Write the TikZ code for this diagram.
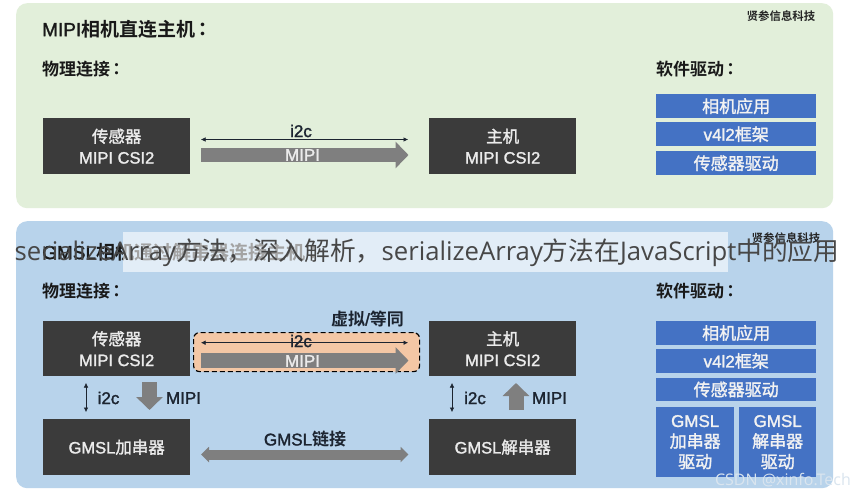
\documentclass[tikz,border=0pt]{standalone}
\usepackage{fontspec}
\setmainfont{Liberation Sans}[FakeBold=1.6]
\newfontfamily\cjk{Noto Sans CJK SC}[FakeBold=1.6]
\newfontfamily\cjkb{Noto Sans CJK SC Bold}
\newfontfamily\cjktc{Noto Sans CJK TC Bold}
\newfontfamily\ovlat{Open Sans}
\newfontfamily\ovcjk{Noto Sans CJK SC}
\newcommand{\C}[1]{{\cjk #1}}
\newcommand{\B}[1]{{\cjkb #1}}
\newcommand{\K}{\kern-2pt{\cjktc ：}}
\newcommand{\Ov}[1]{{\ovcjk #1}}
\usetikzlibrary{arrows.meta}
\definecolor{panelg}{HTML}{E2EFDA}
\definecolor{panelb}{HTML}{B8D3EB}
\definecolor{dk}{HTML}{3B3B3B}
\definecolor{blu}{HTML}{4472C4}
\definecolor{gry}{HTML}{7F7F7F}
\definecolor{peach}{HTML}{F4C7A5}
\definecolor{ink}{HTML}{1C2430}
\definecolor{csdn}{HTML}{DAE5EF}
\tikzset{
 x=1pt,y=-1pt,
 panel/.style={rounded corners=11pt,draw=none,inner sep=0pt,anchor=north west},
 dark/.style={fill=dk,text=white!92!black,font=\fontsize{16.5}{21}\selectfont,align=center,minimum width=147pt,inner sep=0pt,anchor=north west},
 soft/.style={fill=blu,text=white!95!black,font=\fontsize{17}{20.5}\selectfont,align=center,inner sep=0pt,anchor=north west},
 head/.style={font=\fontsize{17}{20}\selectfont,anchor=west,inner sep=0pt,text=black!90},
 bighead/.style={font=\fontsize{19}{22}\selectfont,anchor=west,inner sep=0pt,text=black!90},
 lab/.style={font=\fontsize{17}{20}\selectfont,inner sep=0pt,text=ink},
 arrowlab/.style={font=\fontsize{17}{20}\selectfont,text=white!92!black,inner sep=0pt},
 wm/.style={font=\fontsize{11.4}{13}\selectfont,inner sep=0pt,text=black!85},
 thinarr/.style={{Latex[length=4.5pt,width=4.5pt]}-{Latex[length=4.5pt,width=4.5pt]},line width=0.5pt,draw=ink},
 fat/.style={line width=14.5pt,draw=gry,-{Triangle[length=13pt,width=26pt]}},
 fatv/.style={line width=15pt,draw=gry,-{Triangle[length=13pt,width=26pt]}},
 fatd/.style={line width=10pt,draw=gry,{Triangle[length=8pt,width=15pt]}-{Triangle[length=8pt,width=15pt]}},
}
\begin{document}
\begin{tikzpicture}
\useasboundingbox (0,0) rectangle (852,490);
\fill[white] (0,0) rectangle (852,490);
% top panel
\node[panel,fill=panelg,minimum width=817pt,minimum height=205pt] (p1) at (16,3) {};
\node[bighead] (t1) at (42,29) {MIPI\B{相机直连主机}\K};
\node[head] (s1) at (42,69) {\B{物理连接}\K};
\node[head] (d1) at (656,69) {\B{软件驱动}\K};
\node[wm] (w1) at (781,16) {\B{贤参信息科技}};
\node[dark,minimum height=56pt] (a1) at (43,118) {\C{传感器}\\MIPI CSI2};
\node[dark,minimum height=56pt] (b1) at (429,118) {\C{主机}\\MIPI CSI2};
\coordinate (i1l) at (201,139.5);
\coordinate (i1r) at (408,139.5);
\draw[thinarr] (i1l) -- (i1r);
\node[lab] (i1t) at (301,131) {i2c};
\coordinate (m1l) at (201,155);
\coordinate (m1r) at (408.5,155);
\draw[fat] (m1l) -- (m1r);
\node[arrowlab] (m1t) at (302.5,155) {MIPI};
\node[soft,minimum width=160pt,minimum height=24pt] (x1) at (656,94) {\C{相机应用}};
\node[soft,minimum width=160pt,minimum height=24pt] (x2) at (656,122) {v4l2\C{框架}};
\node[soft,minimum width=160pt,minimum height=24pt] (x3) at (656,151) {\C{传感器驱动}};
% bottom panel
\node[panel,fill=panelb,minimum width=817pt,minimum height=267pt] (p2) at (16,221) {};
\node[bighead] (t2) at (42,252) {GMSL\B{相机通过解串器连接主机}\K};
\node[wm] (w2) at (786,238) {\B{贤参信息科技}};
\node[head] (s2) at (42,291) {\B{物理连接}\K};
\node[head] (d2) at (656,291) {\B{软件驱动}\K};
\node[dark,minimum height=55pt] (a2) at (43,321) {\C{传感器}\\MIPI CSI2};
\node[dark,minimum height=55pt] (b2) at (429,321) {\C{主机}\\MIPI CSI2};
\node[dark,minimum height=56pt] (c2) at (43,419) {GMSL\C{加串器}};
\node[dark,minimum height=56pt] (e2) at (429,419) {GMSL\C{解串器}};
\node[draw=black,dash pattern=on 5pt off 3pt,line width=1.2pt,fill=peach,rounded corners=6pt,minimum width=226pt,minimum height=39pt,inner sep=0pt,anchor=north west] (vb) at (193,332) {};
\node[lab] (vt) at (367.5,319) {\B{虚拟}/\B{等同}};
\coordinate (i2l) at (201,342.7);
\coordinate (i2r) at (408,342.7);
\draw[thinarr] (i2l) -- (i2r);
\node[lab] (i2t) at (301,341) {i2c};
\coordinate (m2l) at (201,360.5);
\coordinate (m2r) at (408.5,360.5);
\draw[fat] (m2l) -- (m2r);
\node[arrowlab] (m2t) at (302.5,361) {MIPI};
% verticals
\coordinate (u1) at (86,383);
\coordinate (u2) at (86,412);
\draw[thinarr] (u1) -- (u2);
\node[lab] (l1) at (108.5,398) {i2c};
\coordinate (da1) at (149.5,382);
\coordinate (da2) at (149.5,410);
\draw[fatv] (da1) -- (da2);
\node[lab] (l2) at (183.5,398) {MIPI};
\coordinate (v1) at (452,383);
\coordinate (v2) at (452,412);
\draw[thinarr] (v1) -- (v2);
\node[lab] (l3) at (475,398) {i2c};
\coordinate (ua1) at (516,410);
\coordinate (ua2) at (516,383);
\draw[fatv] (ua1) -- (ua2);
\node[lab] (l4) at (549.5,398) {MIPI};
\node[lab] (gt) at (305,439) {GMSL\B{链接}};
\coordinate (gl1) at (201,454.5);
\coordinate (gl2) at (408.5,454.5);
\draw[fatd] (gl1) -- (gl2);
% software
\node[soft,minimum width=160pt,minimum height=23.5pt] (y1) at (656,321) {\C{相机应用}};
\node[soft,minimum width=160pt,minimum height=23.5pt] (y2) at (656,349) {v4l2\C{框架}};
\node[soft,minimum width=160pt,minimum height=23.5pt] (y3) at (656,377.5) {\C{传感器驱动}};
\node[soft,minimum width=78pt,minimum height=70pt] (y4) at (656,407) {GMSL\\\C{加串器}\\\C{驱动}};
\node[soft,minimum width=77pt,minimum height=70pt] (y5) at (739,407) {GMSL\\\C{解串器}\\\C{驱动}};
% overlay
\fill[white,opacity=.6] (123,232) rectangle (728,272);
\node[font=\fontsize{25.7}{28}\selectfont\ovlat,text=black!72,inner sep=0pt] (ov) at (427,253) {serializeArray\Ov{方法，深入解析，}serializeArray\Ov{方法在}JavaScript\Ov{中的应用}};
\node[font=\fontsize{16}{18}\selectfont\ovlat,text=csdn,inner sep=0pt,anchor=east] (wm3) at (851,480) {CSDN @xinfo.Tech};
\end{tikzpicture}
\end{document}
